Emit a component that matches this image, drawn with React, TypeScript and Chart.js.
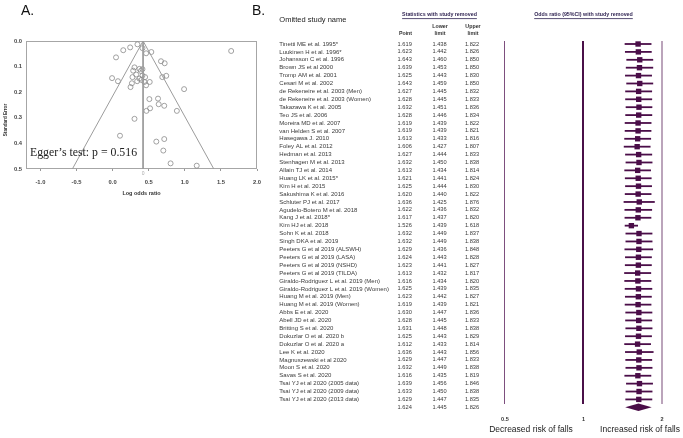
import React, { useEffect, useRef } from 'react';
import { Chart, registerables } from 'chart.js';

Chart.register(...registerables);
Chart.defaults.font.family = "'Liberation Sans', Arial, sans-serif";

// ---------- Panel B: leave-one-out forest plot ----------
const STUDIES = [
  'Tinetti ME et al. 1995*',
  'Luukinen H et al. 1996*',
  'Johansson C et al. 1996',
  'Brown JS et al 2000',
  'Tromp AM et al. 2001',
  'Cesari M et al. 2002',
  'de Rekeneire et al. 2003 (Men)',
  'de Rekeneire et al. 2003 (Women)',
  'Takazawa K et al. 2005',
  'Teo JS et al. 2006',
  'Moreira MD et al. 2007',
  'van Helden S et al. 2007',
  'Hasegawa J. 2010',
  'Foley AL et al. 2012',
  'Hedman et al. 2013',
  'Stenhagen M et al. 2013',
  'Allain TJ et al. 2014',
  'Huang LK et al. 2015*',
  'Kim H et al. 2015',
  'Sakushima K et al. 2016',
  'Schluter PJ et al. 2017',
  'Agudelo-Botero M et al. 2018',
  'Kang J et al. 2018*',
  'Kim HJ et al. 2018',
  'Sohn K et al. 2018',
  'Singh DKA et al. 2019',
  'Peeters G et al 2019 (ALSWH)',
  'Peeters G et al 2019 (LASA)',
  'Peeters G et al 2019 (NSHD)',
  'Peeters G et al 2019 (TILDA)',
  'Giraldo-Rodriguez L et al. 2019 (Men)',
  'Giraldo-Rodriguez L et al. 2019 (Women)',
  'Huang M et al. 2019 (Men)',
  'Huang M et al. 2019 (Women)',
  'Abbs E et al. 2020',
  'Abell JD et al. 2020',
  'Britting S et al. 2020',
  'Dokuzlar O et al. 2020 b',
  'Dokuzlar O et al. 2020 a',
  'Lee K et al. 2020',
  'Magnuszewski et al 2020',
  'Moon S et al. 2020',
  'Savas S et al. 2020',
  'Tsai YJ et al 2020 (2005 data)',
  'Tsai YJ et al 2020 (2009 data)',
  'Tsai YJ et al 2020 (2013 data)',
];

// last entry = pooled estimate
const POINT = [
  1.619, 1.623, 1.643, 1.639, 1.625, 1.643, 1.627, 1.628, 1.632, 1.628,
  1.619, 1.619, 1.613, 1.606, 1.627, 1.632, 1.613, 1.621, 1.625, 1.620,
  1.636, 1.622, 1.617, 1.526, 1.632, 1.632, 1.629, 1.624, 1.623, 1.613,
  1.616, 1.625, 1.623, 1.619, 1.630, 1.628, 1.631, 1.625, 1.612, 1.636,
  1.629, 1.632, 1.616, 1.639, 1.633, 1.629, 1.624,
];
const LOWER = [
  1.438, 1.442, 1.460, 1.453, 1.443, 1.459, 1.445, 1.445, 1.451, 1.446,
  1.439, 1.439, 1.433, 1.427, 1.444, 1.450, 1.434, 1.441, 1.444, 1.440,
  1.425, 1.436, 1.437, 1.439, 1.449, 1.449, 1.436, 1.443, 1.441, 1.432,
  1.434, 1.439, 1.442, 1.439, 1.447, 1.445, 1.448, 1.443, 1.433, 1.443,
  1.447, 1.449, 1.435, 1.456, 1.450, 1.447, 1.445,
];
const UPPER = [
  1.822, 1.826, 1.850, 1.850, 1.830, 1.850, 1.832, 1.833, 1.836, 1.834,
  1.822, 1.821, 1.816, 1.807, 1.833, 1.838, 1.814, 1.824, 1.830, 1.822,
  1.876, 1.832, 1.820, 1.618, 1.837, 1.838, 1.848, 1.828, 1.827, 1.817,
  1.820, 1.835, 1.827, 1.821, 1.836, 1.833, 1.838, 1.829, 1.814, 1.856,
  1.833, 1.838, 1.819, 1.846, 1.838, 1.835, 1.826,
];
const OR_TICKS = [0.5, 1, 2];

// ---------- Panel A: funnel plot ----------
const FUNNEL_LOG_OR = [
  0.344, 0.413, 0.243, 0.147, 0.464, 0.536, 0.047, 1.642, 0.670, 0.721,
  0.303, 0.371, 0.413, 0.285, 0.391, 0.326, 0.413, 0.275, 0.371, 0.450,
  0.688, 0.743, -0.008, 0.074, 0.340, 0.399, 0.440, 0.514, 0.267, 0.464,
  0.248, 0.990, 0.509, 0.629, 0.638, 0.715, 0.519, 0.468, 0.890, 0.303,
  0.102, 0.715, 0.605, 0.702, 0.803, 1.165,
];
const FUNNEL_SE = [
  0.013, 0.028, 0.025, 0.036, 0.048, 0.043, 0.064, 0.039, 0.079, 0.087,
  0.103, 0.109, 0.110, 0.116, 0.117, 0.131, 0.135, 0.141, 0.147, 0.141,
  0.141, 0.136, 0.145, 0.157, 0.157, 0.152, 0.160, 0.160, 0.165, 0.173,
  0.180, 0.188, 0.227, 0.225, 0.247, 0.253, 0.263, 0.273, 0.273, 0.304,
  0.370, 0.383, 0.393, 0.428, 0.478, 0.487,
];
const FUNNEL_CENTER = 0.422;
const FUNNEL_SE_MAX = 0.5;
const FUNNEL_LIMITS = [-0.558, 1.402];
const LOGOR_TICKS = [-1.0, -0.5, 0.0, 0.5, 1.0, 1.5, 2.0];
const SE_TICKS = [0.0, 0.1, 0.2, 0.3, 0.4, 0.5];

const FONT = "'Liberation Sans', Arial, sans-serif";
const MARK = '#4a0d48';

const funnelPlugin = {
  id: 'funnelDeco',
  beforeDatasetsDraw(chart: any) {
    const { ctx, chartArea: a } = chart;
    ctx.save();
    ctx.strokeStyle = '#a6a6a6';
    ctx.lineWidth = 1;
    ctx.strokeRect(a.left + 0.5, a.top + 0.5, a.right - a.left - 1, a.bottom - a.top - 1);
    ctx.restore();
  },
  afterDraw(chart: any) {
    const { ctx, scales, chartArea: a } = chart;
    ctx.save();
    ctx.fillStyle = '#333';
    ctx.font = `bold 4.6px ${FONT}`;
    ctx.translate(6, 120);
    ctx.rotate(-Math.PI / 2);
    ctx.textAlign = 'center';
    ctx.textBaseline = 'middle';
    ctx.fillText('Standard Error', 0, 0);
    ctx.restore();
    ctx.save();
    ctx.fillStyle = '#aaa';
    ctx.font = `5px ${FONT}`;
    ctx.textAlign = 'center';
    ctx.textBaseline = 'middle';
    ctx.fillText('0', scales.x.getPixelForValue(FUNNEL_CENTER), a.bottom + 5);
    ctx.restore();
  },
};

const forestPlugin = {
  id: 'forestDeco',
  beforeDatasetsDraw(chart: any) {
    const { ctx, scales } = chart;
    const sx = scales.x, sy = scales.y;
    ctx.save();
    ctx.strokeStyle = MARK;
    ctx.lineWidth = 1.8;
    STUDIES.forEach((_, i) => {
      const y = sy.getPixelForValue(i);
      ctx.beginPath();
      ctx.moveTo(sx.getPixelForValue(LOWER[i]), y);
      ctx.lineTo(sx.getPixelForValue(UPPER[i]), y);
      ctx.stroke();
    });
    const k = STUDIES.length;
    const yd = sy.getPixelForValue(k);
    ctx.fillStyle = MARK;
    ctx.beginPath();
    ctx.moveTo(sx.getPixelForValue(LOWER[k]), yd);
    ctx.lineTo(sx.getPixelForValue(POINT[k]), yd - 3.8);
    ctx.lineTo(sx.getPixelForValue(UPPER[k]), yd);
    ctx.lineTo(sx.getPixelForValue(POINT[k]), yd + 3.8);
    ctx.closePath();
    ctx.fill();
    ctx.restore();
  },
  afterDraw(chart: any) {
    const { ctx, scales } = chart;
    const sy = scales.y;
    ctx.save();
    ctx.textBaseline = 'middle';
    ctx.fillStyle = '#222';
    ctx.font = `7.5px ${FONT}`;
    ctx.textAlign = 'left';
    ctx.fillText('Omitted study name', 9.3, 20);

    const underlined = (txt: string, cx: number, cy: number) => {
      ctx.fillStyle = '#2b1f4e';
      ctx.font = `bold 5.3px ${FONT}`;
      ctx.textAlign = 'center';
      ctx.fillText(txt, cx, cy);
      const w = ctx.measureText(txt).width;
      ctx.strokeStyle = '#2b1f4e';
      ctx.lineWidth = 0.8;
      ctx.beginPath();
      ctx.moveTo(cx - w / 2, cy + 3.6);
      ctx.lineTo(cx + w / 2, cy + 3.6);
      ctx.stroke();
    };
    underlined('Statistics with study removed', 169.5, 15);
    underlined('Odds ratio (95%CI) with study removed', 313.5, 15);

    ctx.fillStyle = '#333';
    ctx.font = `bold 5.3px ${FONT}`;
    ctx.textAlign = 'center';
    ctx.fillText('Point', 135.5, 33.3);
    ctx.fillText('Lower', 170, 26.7);
    ctx.fillText('limit', 170, 33.3);
    ctx.fillText('Upper', 203, 26.7);
    ctx.fillText('limit', 203, 33.3);

    POINT.forEach((p, i) => {
      const y = sy.getPixelForValue(i);
      ctx.fillStyle = '#3a3a3a';
      if (i < STUDIES.length) {
        ctx.font = `6px ${FONT}`;
        ctx.textAlign = 'left';
        ctx.fillText(STUDIES[i], 9.3, y);
      }
      ctx.font = `5.7px ${FONT}`;
      ctx.textAlign = 'center';
      ctx.fillText(p.toFixed(3), 134.7, y);
      ctx.fillText(LOWER[i].toFixed(3), 169.5, y);
      ctx.fillText(UPPER[i].toFixed(3), 202, y);
    });

    ctx.fillStyle = '#222';
    ctx.font = `8.5px ${FONT}`;
    ctx.textAlign = 'center';
    ctx.fillText('Decreased risk of falls', 261, 430);
    ctx.fillText('Increased risk of falls', 370, 430);
    ctx.restore();
  },
};

function FunnelChart() {
  const ref = useRef<HTMLCanvasElement>(null);
  useEffect(() => {
    const lineDs = (pts: { x: number; y: number }[]) => ({
      data: pts,
      showLine: true,
      borderColor: '#9c9c9c',
      borderWidth: 1,
      pointRadius: 0,
    });
    const chart = new Chart(ref.current as HTMLCanvasElement, {
      type: 'scatter',
      data: {
        datasets: [
          lineDs([{ x: FUNNEL_CENTER, y: 0 }, { x: FUNNEL_LIMITS[0], y: FUNNEL_SE_MAX }]),
          lineDs([{ x: FUNNEL_CENTER, y: 0 }, { x: FUNNEL_LIMITS[1], y: FUNNEL_SE_MAX }]),
          lineDs([{ x: FUNNEL_CENTER, y: 0 }, { x: FUNNEL_CENTER, y: FUNNEL_SE_MAX }]),
          {
            data: FUNNEL_LOG_OR.map((x, i) => ({ x, y: FUNNEL_SE[i] })),
            pointStyle: 'circle',
            pointRadius: 2.5,
            borderColor: '#8a8a8a',
            borderWidth: 0.8,
            backgroundColor: 'rgba(0,0,0,0)',
          },
        ],
      },
      options: {
        animation: false,
        responsive: false,
        events: [],
        plugins: { legend: { display: false }, tooltip: { enabled: false } },
        layout: { padding: { top: 41, left: 0, right: 13, bottom: 0 } },
        scales: {
          x: {
            type: 'linear',
            min: -1.2,
            max: 2.0,
            bounds: 'data',
            afterBuildTicks: (s: any) => { s.ticks = LOGOR_TICKS.map((v) => ({ value: v })); },
            afterFit: (s: any) => { s.height = 31; },
            ticks: {
              autoSkip: false,
              maxRotation: 0,
              padding: 8.4,
              color: '#444',
              font: { size: 5.8, weight: 'bold' },
              callback: (v: any) => Number(v).toFixed(1),
            },
            grid: { display: true, drawOnChartArea: false, drawTicks: true, tickLength: 2, color: '#999' },
            border: { display: false },
            title: {
              display: true,
              text: 'Log odds ratio',
              color: '#333',
              font: { size: 5.5, weight: 'bold' },
              padding: { top: 0, bottom: 3.7 },
            },
          },
          y: {
            type: 'linear',
            reverse: true,
            min: 0,
            max: 0.5,
            bounds: 'data',
            afterBuildTicks: (s: any) => { s.ticks = SE_TICKS.map((v) => ({ value: v })); },
            afterFit: (s: any) => { s.width = 26; },
            ticks: {
              autoSkip: false,
              padding: 4,
              color: '#444',
              font: { size: 5.8, weight: 'bold' },
              callback: (v: any) => Number(v).toFixed(1),
            },
            grid: { display: false, drawTicks: false },
            border: { display: false },
          },
        },
      } as any,
      plugins: [funnelPlugin],
    });
    return () => chart.destroy();
  }, []);
  return <canvas ref={ref} width={270} height={200} style={{ position: 'absolute', left: 0, top: 0 }} />;
}

function ForestChart() {
  const ref = useRef<HTMLCanvasElement>(null);
  useEffect(() => {
    const lineColor = (v: number) => (v === 1 ? '#4a1048' : v === 2 ? '#bba4bb' : '#7d4f7e');
    const chart = new Chart(ref.current as HTMLCanvasElement, {
      type: 'scatter',
      data: {
        datasets: [
          {
            data: STUDIES.map((_, i) => ({ x: POINT[i], y: i })),
            pointStyle: 'rect',
            pointRadius: 3.8,
            backgroundColor: MARK,
            borderWidth: 0,
            clip: false,
          },
        ],
      },
      options: {
        animation: false,
        responsive: false,
        events: [],
        plugins: { legend: { display: false }, tooltip: { enabled: false } },
        layout: { padding: { top: 41, left: 225, right: 11, bottom: 0 } },
        scales: {
          x: {
            type: 'logarithmic',
            min: 0.458,
            max: 2.184,
            bounds: 'data',
            afterBuildTicks: (s: any) => { s.ticks = OR_TICKS.map((v) => ({ value: v })); },
            afterFit: (s: any) => { s.height = 34; },
            ticks: {
              autoSkip: false,
              maxRotation: 0,
              padding: 11.7,
              color: '#333',
              font: { size: 5.5, weight: 'bold' },
              callback: (v: any) => String(v),
            },
            grid: {
              drawTicks: false,
              color: (c: any) => lineColor(c.tick ? c.tick.value : 0),
              lineWidth: (c: any) => (c.tick && c.tick.value === 0.5 ? 1 : 2),
            },
            border: { display: false },
          },
          y: { type: 'linear', display: false, reverse: true, min: -0.38, max: 45.58 },
        },
      } as any,
      plugins: [forestPlugin],
    });
    return () => chart.destroy();
  }, []);
  return <canvas ref={ref} width={413} height={438} style={{ position: 'absolute', left: 270, top: 0 }} />;
}

export default function App() {
  return (
    <div
      style={{
        position: 'absolute',
        left: 0,
        top: 0,
        width: 683,
        height: 438,
        overflow: 'hidden',
        background: '#fff',
      }}
    >
      <FunnelChart />
      <ForestChart />
      <div style={{ position: 'absolute', left: 21, top: 3, font: `14px ${FONT}`, lineHeight: '14px', color: '#111' }}>A.</div>
      <div style={{ position: 'absolute', left: 252, top: 3, font: `14px ${FONT}`, lineHeight: '14px', color: '#111' }}>B.</div>
      <div
        style={{
          position: 'absolute',
          left: 30,
          top: 145,
          font: `11.8px 'Liberation Serif', 'Times New Roman', serif`,
          lineHeight: '14px',
          color: '#222',
          whiteSpace: 'nowrap',
        }}
      >
        Egger’s test: p = 0.516
      </div>
    </div>
  );
}
